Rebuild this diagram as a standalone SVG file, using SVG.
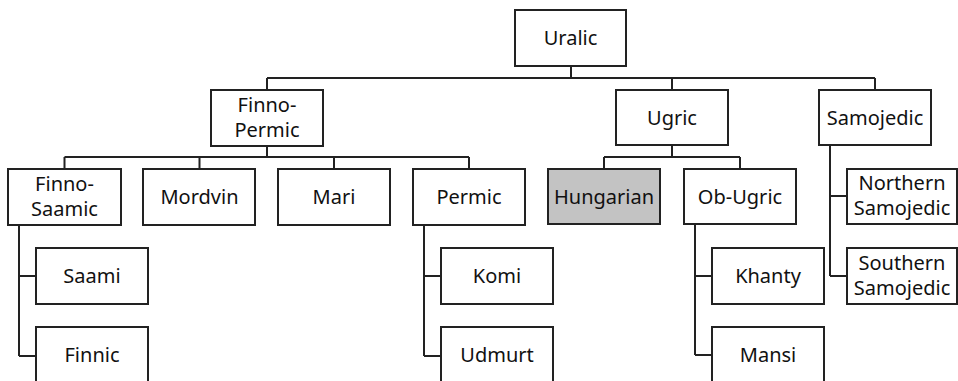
<svg xmlns="http://www.w3.org/2000/svg" width="958" height="381" viewBox="0 0 958 381">
<style>
.b{fill:#fff;stroke:#222;stroke-width:2}
.h{fill:#c3c3c3;stroke:#222;stroke-width:2}
text{font-family:"Noto Sans","Open Sans",sans-serif;font-size:20px;fill:#111;text-anchor:middle}
.c path{fill:none;stroke:#222;stroke-width:2}
</style>
<rect width="958" height="381" fill="#fff"/>
<g class="c" id="connectors">
<path d="M571 66V78M267 78H875M267 78V90M672 78V90M875 78V90"/>
<path d="M267 146V157M64.5 157H469M64.5 157V169M199.5 157V169M334 157V169M469 157V169"/>
<path d="M672 145V157M604 157H740M604 157V169M740 157V169"/>
<path d="M830 145V276M830 196H847M830 276H847"/>
<path d="M19 225V356M19 276H36M19 356H36"/>
<path d="M424 225V356M424 276H441M424 356H441"/>
<path d="M695 224V355M695 276H712M695 355H712"/>
</g>
<g id="uralic"><rect class="b" x="515" y="10" width="111" height="56"/><text x="570.5" y="45">Uralic</text></g>
<g id="finno-permic"><rect class="b" x="211" y="90" width="112" height="56"/><text x="267" y="112">Finno-</text><text x="267" y="137">Permic</text></g>
<g id="ugric"><rect class="b" x="616" y="90" width="112" height="55"/><text x="672" y="124.5">Ugric</text></g>
<g id="samojedic"><rect class="b" x="819" y="90" width="112" height="55"/><text x="875" y="124.5">Samojedic</text></g>
<g id="finno-saamic"><rect class="b" x="8" y="169" width="113" height="56"/><text x="64.5" y="191">Finno-</text><text x="64.5" y="216">Saamic</text></g>
<g id="mordvin"><rect class="b" x="143" y="169" width="112" height="56"/><text x="199.5" y="204">Mordvin</text></g>
<g id="mari"><rect class="b" x="278" y="169" width="112" height="56"/><text x="334" y="204">Mari</text></g>
<g id="permic"><rect class="b" x="413" y="169" width="112" height="56"/><text x="469" y="204">Permic</text></g>
<g id="hungarian"><rect class="h" x="548" y="169" width="112" height="55"/><text x="604" y="204">Hungarian</text></g>
<g id="ob-ugric"><rect class="b" x="684" y="169" width="112" height="55"/><text x="740" y="204">Ob-Ugric</text></g>
<g id="northern-samojedic"><rect class="b" x="847" y="169" width="110" height="55"/><text x="902" y="190">Northern</text><text x="902" y="215">Samojedic</text></g>
<g id="saami"><rect class="b" x="36" y="248" width="112" height="56"/><text x="92" y="283">Saami</text></g>
<g id="komi"><rect class="b" x="441" y="248" width="112" height="56"/><text x="497" y="283">Komi</text></g>
<g id="khanty"><rect class="b" x="712" y="248" width="112" height="56"/><text x="768" y="283">Khanty</text></g>
<g id="southern-samojedic"><rect class="b" x="847" y="248" width="110" height="56"/><text x="902" y="270">Southern</text><text x="902" y="295">Samojedic</text></g>
<g id="finnic"><rect class="b" x="36" y="327" width="112" height="56"/><text x="92" y="362">Finnic</text></g>
<g id="udmurt"><rect class="b" x="441" y="327" width="112" height="56"/><text x="497" y="362">Udmurt</text></g>
<g id="mansi"><rect class="b" x="712" y="327" width="112" height="56"/><text x="768" y="362">Mansi</text></g>
</svg>
